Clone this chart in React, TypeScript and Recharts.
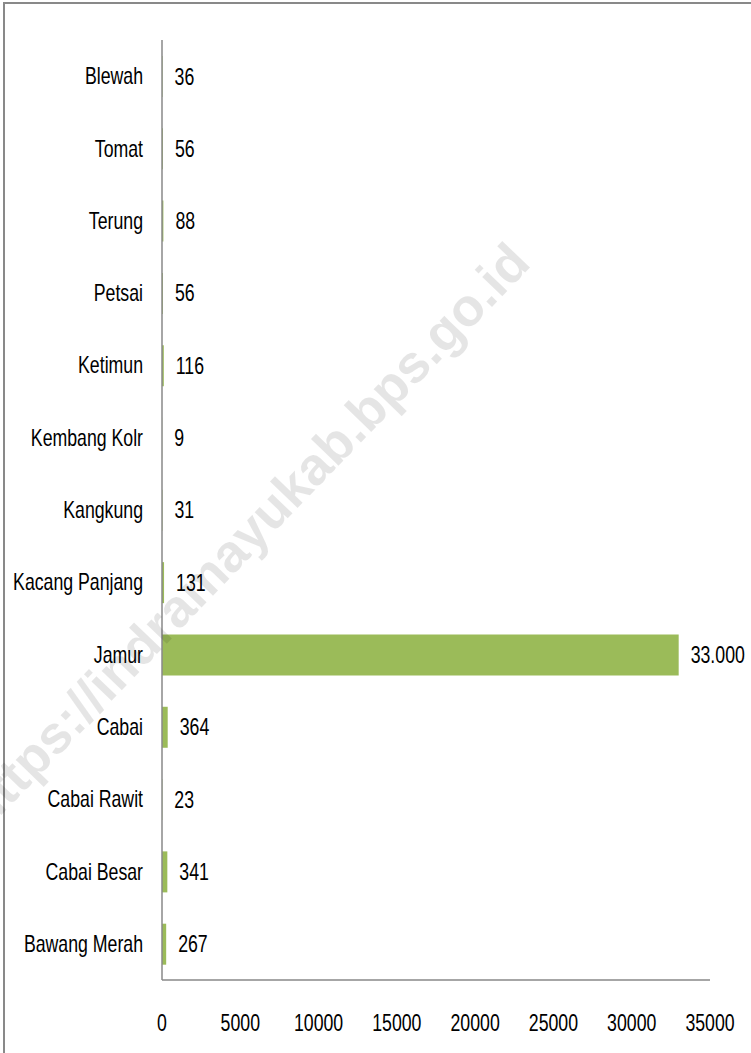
import React from 'react';
import { BarChart, Bar, XAxis, YAxis, LabelList } from 'recharts';

// Luas panen / produksi per komoditas (top to bottom as drawn)
const categories = [
    'Blewah',
    'Tomat',
    'Terung',
    'Petsai',
    'Ketimun',
    'Kembang Kolr ',
    'Kangkung',
    'Kacang Panjang',
    'Jamur',
    'Cabai',
    'Cabai Rawit',
    'Cabai Besar',
    'Bawang Merah',
];
const values = [36, 56, 88, 56, 116, 9, 31, 131, 33000, 364, 23, 341, 267];
const xTicks = [0, 5000, 10000, 15000, 20000, 25000, 30000, 35000];

const data = categories.map((name, i) => ({ name, value: values[i] }));

const FONT = '"Liberation Sans", Arial, sans-serif';
const FONT_SIZE = 23;
const SQUEEZE = 0.77; // narrow the font horizontally, the source uses a condensed face
const AXIS_COLOR = '#898989';

// thousands separator with a dot, like the source (33.000)
const formatValue = (v: unknown) => {
    const n = typeof v === 'number' ? v : Number(v);
    return String(n).replace(/\B(?=(\d{3})+(?!\d))/g, '.');
};

// text drawn at (x, y) squeezed horizontally around its anchor point
function NarrowText({ x, y, anchor, dy, children }: any) {
    return (
        <text
            transform={`translate(${x},${y}) scale(${SQUEEZE},1)`}
            x={0}
            y={0}
            dy={dy}
            textAnchor={anchor}
            fill="#000"
            fontSize={FONT_SIZE}
            fontFamily={FONT}
        >
            {children}
        </text>
    );
}

const CategoryTick = (props: any) => (
    <NarrowText x={props.x} y={props.y} anchor="end" dy="0.35em">
        {props.payload.value}
    </NarrowText>
);

const NumberTick = (props: any) => (
    <NarrowText x={props.x} y={props.y} anchor="middle" dy="0.71em">
        {props.payload.value}
    </NarrowText>
);

const ValueLabel = (props: any) => {
    const { x, y, width, height, value } = props;
    return (
        <NarrowText x={x + width + 12} y={y + height / 2} anchor="start" dy="0.35em">
            {formatValue(value)}
        </NarrowText>
    );
};

export default function App() {
    return (
        <div
            style={{
                position: 'fixed',
                left: 0,
                top: 0,
                width: 751,
                height: 1053,
                overflow: 'hidden',
                background: '#fff',
            }}
        >
            {/* outer frame of the source image */}
            <div
                style={{
                    position: 'absolute',
                    left: 3,
                    top: 2,
                    width: 800,
                    height: 1100,
                    borderTop: `2px solid ${AXIS_COLOR}`,
                    borderLeft: `2px solid ${AXIS_COLOR}`,
                }}
            />
            <BarChart
                width={751}
                height={1053}
                layout="vertical"
                data={data}
                barCategoryGap={0}
                margin={{ top: 40, right: 41, left: 0, bottom: 43 }}
            >
                <XAxis
                    type="number"
                    domain={[0, 35000]}
                    ticks={xTicks}
                    interval={0}
                    height={30}
                    tickLine={false}
                    tickSize={0}
                    tickMargin={35}
                    axisLine={{ stroke: AXIS_COLOR, strokeWidth: 1.5 }}
                    tick={<NumberTick />}
                />
                <YAxis
                    type="category"
                    dataKey="name"
                    width={162}
                    interval={0}
                    tickLine={false}
                    tickSize={0}
                    tickMargin={19}
                    axisLine={{ stroke: AXIS_COLOR, strokeWidth: 1.5 }}
                    tick={<CategoryTick />}
                />
                <Bar dataKey="value" fill="#9BBB59" barSize={41} isAnimationActive={false}>
                    <LabelList dataKey="value" content={<ValueLabel />} />
                </Bar>
            </BarChart>
            {/* watermark */}
            <div
                style={{
                    position: 'absolute',
                    left: 246,
                    top: 535,
                    transform: 'translate(-50%, -50%) rotate(-46deg)',
                    whiteSpace: 'nowrap',
                    fontFamily: '"Liberation Sans", Arial, sans-serif',
                    fontWeight: 'bold',
                    fontSize: 53,
                    color: 'rgba(0,0,0,0.1)',
                    pointerEvents: 'none',
                }}
            >
                https://indramayukab.bps.go.id
            </div>
        </div>
    );
}
